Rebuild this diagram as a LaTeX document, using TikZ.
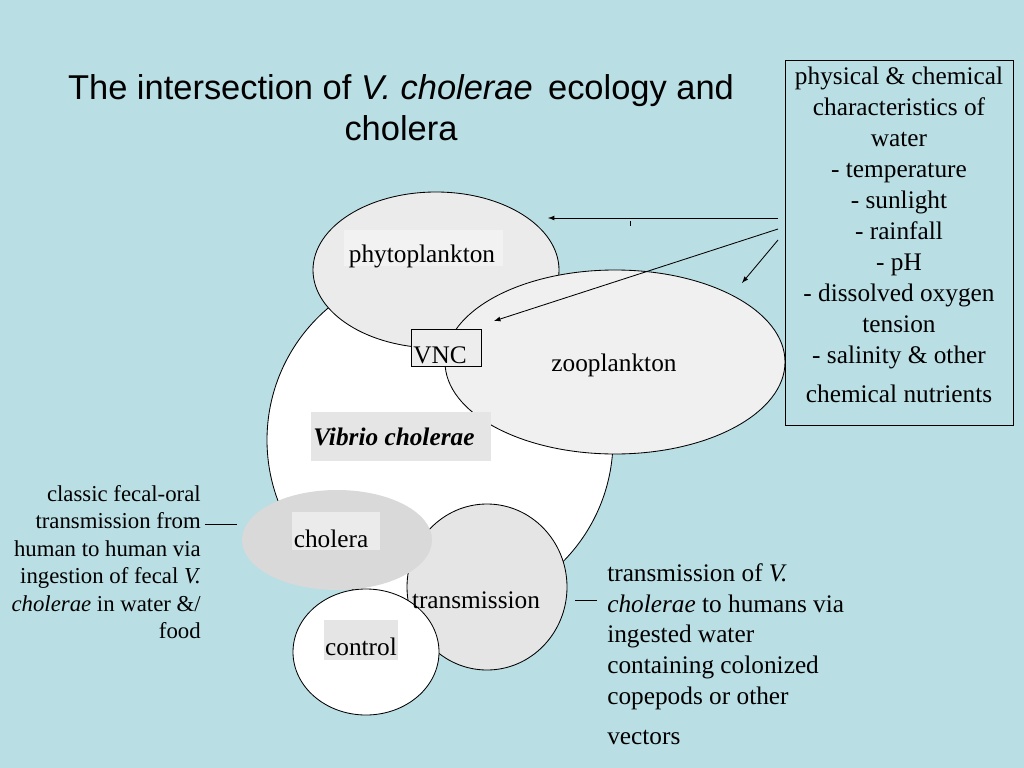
\documentclass[tikz,border=0pt]{standalone}
\usepackage{fontspec}
\setmainfont{Liberation Serif}
\newfontfamily\titlefont{Liberation Sans}
\usetikzlibrary{positioning}
\definecolor{slide}{RGB}{185,222,228}
\tikzset{blob/.style={draw=black,line width=0.6pt},
  lbl/.style={font=\fontsize{18}{21}\selectfont,inner sep=2pt},
  note/.style={font=\fontsize{18}{22}\selectfont,inner sep=0pt},
  arr/.style={-latex,line width=0.6pt}}

\begin{document}
\begin{tikzpicture}[x=0.025cm,y=-0.025cm]
    \useasboundingbox (0,0) rectangle (1024,768);
    \fill[slide] (0,0) rectangle (1024,768);
    \node[font=\titlefont\fontsize{24.5}{29}\selectfont,align=center] (title) at (401,108)
      {The intersection of \textit{V. cholerae}\, ecology and\\cholera};

    % ellipses
    \draw[blob,fill=white] (440,440) circle (173);
    \draw[blob,fill=black!8] (436,270) ellipse (123 and 78);
    \draw[blob,fill=black!6] (615,362) ellipse (170 and 92);
    \draw[blob,fill=black!10] (487,587) ellipse (80 and 83);
    \draw[blob,draw=none,fill=black!15] (337,540) ellipse (95 and 50);
    \draw[blob,fill=white] (366,652) ellipse (73 and 63);

    % labels
    \fill[black!5] (344,230) rectangle (503,266);
    \node[lbl] (phyto) at (422,256) {phytoplankton};
    \node[lbl] (zoo) at (614,365) {zooplankton};
    \draw[fill=black!7] (411,329) rectangle (481,366);
    \node[lbl] (vnc) at (440,355) {VNC};
    \fill[black!10] (311,412) rectangle (491,461);
    \node[lbl,font=\fontsize{18}{21}\selectfont\bfseries\itshape] (vibrio) at (394,437) {Vibrio cholerae};
    \fill[black!8] (292,512) rectangle (380,550);
    \node[lbl] (cholera) at (331,539) {cholera};
    \node[lbl] (trans) at (476,600) {transmission};
    \fill[black!10] (324,620) rectangle (398,660);
    \node[lbl] (control) at (361,647) {control};

    % water box
    \draw (785,60) rectangle (1013,425);
    \node[note,align=center,anchor=north] (water) at (899,67)
      {physical \& chemical\\characteristics of\\water\\- temperature\\- sunlight\\- rainfall\\- pH\\- dissolved oxygen\\tension\\- salinity \& other\\[6pt]chemical nutrients};
    \coordinate (w1) at (778,218);
    \coordinate (w2) at (778,229);
    \coordinate (w3) at (778,240);
    \draw[arr] (w1) -- (548,218);
    \draw[arr] (w2) -- (494,321);
    \draw[arr] (w3) -- (742,283);
    \draw[line width=0.4pt] (630,221) -- (630,226);

    % side notes
    \node[note,font=\fontsize{16.2}{19.5}\selectfont,align=right,anchor=north east] (fecal) at (201,485)
      {classic fecal-oral\\transmission from\\human to human via\\ingestion of fecal \textit{V.}\\\textit{cholerae} in water \&/\\food};
    \draw (205,524) -- (237,524);
    \node[note,align=left,anchor=north west] (vector) at (607,563)
      {transmission of \textit{V.}\\\textit{cholerae} to humans via\\ingested water\\containing colonized\\copepods or other\\[6pt]vectors};
    \draw (575,600) -- (597,600);
\end{tikzpicture}
\end{document}
